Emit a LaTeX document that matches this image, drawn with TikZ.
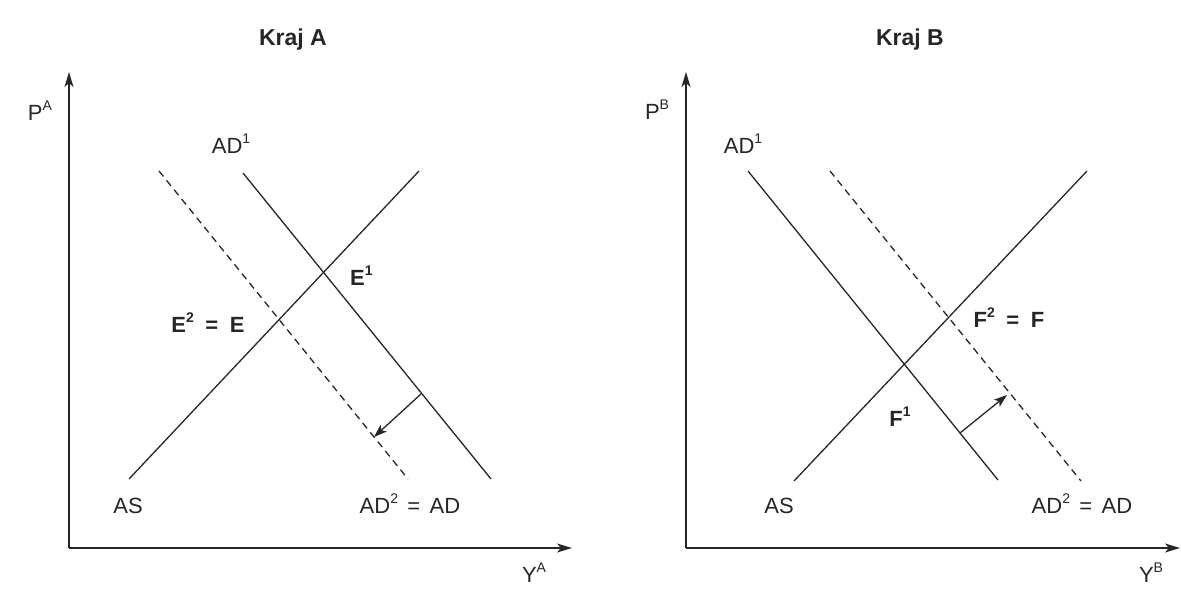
\documentclass[tikz,border=0pt]{standalone}
\usepackage{fontspec}
\setmainfont{Liberation Sans}
\usetikzlibrary{arrows.meta}
\definecolor{ink}{HTML}{262626}
\newcommand{\sups}[1]{\raisebox{0.42em}{\fontsize{14}{14}\selectfont #1}}
\begin{document}
\begin{tikzpicture}[x=1pt,y=-1pt,
  curve/.style={draw=ink,line width=1.3pt},
  dashcurve/.style={draw=ink,line width=1.3pt,dash pattern=on 7pt off 5pt},
  axis/.style={draw=ink,line width=1.5pt,-{Stealth[length=15pt,width=9pt,inset=4pt]}},
  shiftarrow/.style={draw=ink,line width=1.3pt,-{Stealth[length=13pt,width=9pt,inset=3pt]}},
  lab/.style={text=ink,inner sep=0pt,anchor=base,font=\fontsize{22}{26}\selectfont},
  blab/.style={lab,font=\fontsize{22}{26}\selectfont\bfseries},
  title/.style={text=ink,inner sep=0pt,anchor=base,font=\fontsize{23}{27}\selectfont\bfseries}]
\useasboundingbox (0,0) rectangle (1181,590);
\fill[white] (0,0) rectangle (1181,590);

% ---------- Kraj A ----------
\coordinate (OA) at (69,548);
\coordinate (yA) at (69,72);
\coordinate (xA) at (572,548);
\coordinate (asA1) at (129,479);
\coordinate (asA2) at (419,171);
\coordinate (adA1) at (243,173);
\coordinate (adA2) at (491,479);
\coordinate (dA1) at (159,171);
\coordinate (dA2) at (408,479);
\coordinate (shA1) at (421,394);
\coordinate (shA2) at (374,437);

\draw[axis] (OA) -- (yA);
\draw[axis] (OA) -- (xA);
\draw[curve] (asA1) -- (asA2);
\draw[curve] (adA1) -- (adA2);
\draw[dashcurve] (dA1) -- (dA2);
\draw[shiftarrow] (shA1) -- (shA2);

\node[title] (tA) at (293,45) {Kraj A};
\node[lab] (pA) at (40,120) {P\sups{A}};
\node[lab] (ad1A) at (231,153) {AD\sups{1}};
\node[blab,anchor=base west] (e1) at (350,285) {E\sups{1}};
\node[blab] (e2) at (208,332) {E\sups{2}\hspace{0.25em} = \hspace{0.25em}E};
\node[lab] (asA) at (128,513) {AS};
\node[lab] (ad2A) at (410,513) {AD\sups{2}\hspace{0.15em} = \hspace{0.15em}AD};
\node[lab] (yAl) at (534,582) {Y\sups{A}};

% ---------- Kraj B ----------
\coordinate (OB) at (686,548);
\coordinate (yB) at (686,72);
\coordinate (xB) at (1180,548);
\coordinate (asB1) at (794,481);
\coordinate (asB2) at (1087,171);
\coordinate (adB1) at (748,171);
\coordinate (adB2) at (998,480);
\coordinate (dB1) at (830,171);
\coordinate (dB2) at (1081,481);
\coordinate (shB1) at (960,433);
\coordinate (shB2) at (1007,395);

\draw[axis] (OB) -- (yB);
\draw[axis] (OB) -- (xB);
\draw[curve] (asB1) -- (asB2);
\draw[curve] (adB1) -- (adB2);
\draw[dashcurve] (dB1) -- (dB2);
\draw[shiftarrow] (shB1) -- (shB2);

\node[title] (tB) at (910,45) {Kraj B};
\node[lab] (pB) at (657,119) {P\sups{B}};
\node[lab] (ad1B) at (743,153) {AD\sups{1}};
\node[blab] (f2) at (1009,327) {F\sups{2}\hspace{0.25em} = \hspace{0.25em}F};
\node[blab] (f1) at (900,426) {F\sups{1}};
\node[lab] (asB) at (779,513) {AS};
\node[lab] (ad2B) at (1082,513) {AD\sups{2}\hspace{0.15em} = \hspace{0.15em}AD};
\node[lab] (yBl) at (1151,582) {Y\sups{B}};
\end{tikzpicture}
\end{document}
